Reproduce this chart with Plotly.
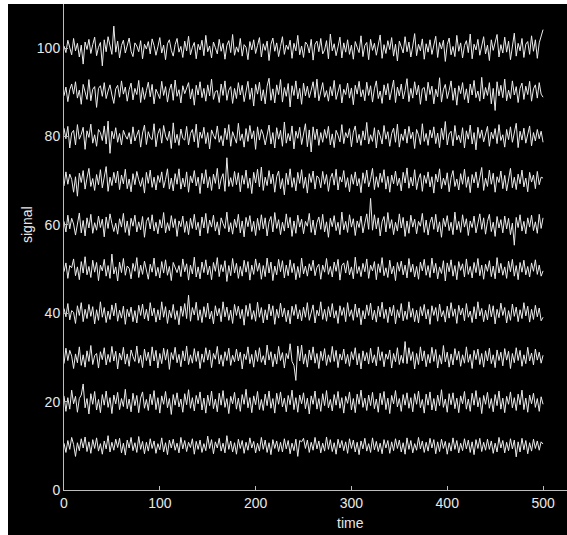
import plotly.graph_objects as go

# time samples (every 2 units from 0 to 500)
time = list(range(0, 501, 2))

# channel baseline levels
levels = [10, 20, 30, 40, 50, 60, 70, 80, 90, 100]

# deviations of each channel around its baseline
dev100 = [0.5,-1.0,1.8,0.4,-1.5,2.2,-0.6,1.1,-2.0,0.7,
 -3.6,1.4,-0.3,2.0,-1.2,0.8,2.5,-1.7,0.2,1.3,
 -4.0,1.9,-0.8,2.6,0.3,-1.4,5.0,-0.9,1.6,-2.2,
 0.6,1.8,-1.1,0.4,2.3,-0.7,-1.9,1.2,0.5,-0.8,
 1.7,-2.4,0.9,-0.2,1.5,-1.3,2.1,0.6,-1.6,0.3,
 2.4,-1.1,0.7,-2.6,1.0,1.9,-0.5,-1.8,0.8,2.2,
 -0.9,0.4,-2.1,1.6,-0.6,2.7,-1.5,0.2,1.3,-2.4,
 0.9,-0.4,1.8,-1.7,2.9,-0.8,0.5,-2.2,1.4,0.1,
 -1.3,2.0,-0.7,1.1,-2.5,0.6,1.7,-1.0,3.1,-1.6,
 0.3,-0.9,2.2,-1.8,0.8,0.2,-2.6,1.5,-0.4,1.9,
 -1.2,0.6,2.4,-2.0,1.0,-0.5,1.6,-2.8,0.9,2.3,
 -0.7,1.2,-1.9,0.4,2.6,-1.4,0.7,-0.3,1.8,-2.3,
 1.1,-0.6,2.9,-1.5,0.5,-2.1,1.4,0.8,-1.1,2.0,
 -2.7,0.9,1.6,-0.8,2.2,-1.3,-0.4,1.7,-2.4,3.2,
 -0.6,1.0,-1.7,0.3,2.5,-2.2,1.2,-0.9,1.9,-1.4,
 0.7,-2.5,1.5,0.2,-1.0,2.8,-1.9,0.6,1.3,-2.6,
 2.0,-0.5,1.1,-1.6,0.4,3.0,-2.3,0.8,-1.2,1.7,
 -0.3,2.4,-1.8,0.9,-2.9,1.6,0.3,-1.1,2.6,-0.8,
 1.4,-2.0,0.5,3.3,-1.7,0.9,-0.6,2.1,-2.5,1.0,
 -0.9,1.9,-1.4,0.6,2.7,-2.1,1.3,-0.2,1.8,-3.0,
 0.8,2.3,-1.5,0.4,-1.9,2.9,-0.7,1.2,-2.2,0.6,
 1.7,-1.0,3.2,-2.4,0.9,-0.4,2.0,-1.6,0.5,2.6,
 -1.3,0.7,-2.8,1.9,-0.5,1.4,3.1,-2.0,0.8,-1.1,
 2.5,-0.9,1.6,-2.6,0.3,3.4,-1.8,1.1,-0.6,2.2,
 -2.1,0.9,1.5,-1.4,2.8,-0.7,1.9,-2.3,1.2,2.7,
 4.2]
dev90 = [-0.8,1.2,-2.1,0.6,1.9,-0.4,2.4,-1.3,0.5,-2.7,
 1.8,-0.2,-1.6,2.9,-1.9,0.7,1.3,-3.4,0.9,1.5,
 -0.9,2.2,-1.4,0.3,1.7,-0.6,-2.5,0.8,1.6,-1.1,
 2.6,-0.4,1.2,-2.0,0.6,2.1,-1.7,0.9,-0.5,2.7,
 -2.3,1.1,-1.6,0.4,2.3,-1.0,1.8,-2.6,0.7,-0.3,
 -1.4,2.5,-0.7,1.3,-2.2,0.5,1.9,-1.8,2.8,-0.9,
 0.6,-2.4,1.5,-0.3,0.9,2.2,-1.5,0.8,-2.9,1.6,
 -0.6,2.4,-1.2,0.9,-2.0,1.7,-0.8,3.0,-1.6,0.2,
 0.4,-2.3,1.9,-0.7,2.6,-1.8,0.5,1.3,-2.5,0.9,
 -1.4,2.2,-0.6,1.6,-2.1,0.7,2.5,-1.6,1.0,-3.1,
 1.8,-0.4,2.3,-1.9,0.6,-2.6,1.4,3.2,-1.8,0.8,
 -2.4,1.7,-0.5,2.9,-2.2,1.1,-0.9,2.0,-3.3,1.5,
 -0.7,2.6,-1.5,0.9,-2.7,2.1,-0.8,1.4,-1.2,0.5,
 2.4,-1.2,3.0,-1.9,0.6,2.2,-1.1,0.4,-2.0,1.3,
 -0.8,2.7,-1.6,0.3,1.8,-2.4,0.7,-0.5,2.1,-1.3,
 1.0,-2.8,1.6,-0.4,2.5,-1.0,0.6,-1.9,2.3,-0.7,
 1.5,-2.2,0.8,2.6,-1.4,0.3,-2.5,1.7,-0.6,2.0,
 -1.7,0.5,2.8,-2.3,1.2,-0.8,1.9,-1.5,0.4,3.1,
 -2.1,0.9,-1.3,2.4,-0.6,1.6,-2.7,0.8,1.1,-1.9,
 2.3,-0.5,1.4,-2.6,0.7,-1.0,3.3,-2.2,0.6,1.8,
 -1.4,0.4,2.6,-1.8,1.0,-2.9,1.5,-0.3,2.2,-1.6,
 0.8,-2.4,1.9,-0.6,2.7,-1.2,0.3,-2.0,3.4,-1.5,
 1.1,-0.7,2.2,-2.6,0.9,-4.1,2.4,-0.8,1.6,-1.2,
 3.0,-1.9,0.5,-1.4,2.6,-0.6,1.3,-2.3,0.9,2.1,
 -1.6,1.4,-0.5,2.5,-2.0,0.8,1.7,-1.3,2.2,-0.4,
 -1.1]
dev80 = [1.9,-0.5,2.3,-2.6,0.8,1.4,-1.9,2.7,-0.6,0.5,
 2.1,-2.9,1.3,-0.2,2.8,-1.5,0.4,-2.2,1.6,0.9,
 -0.9,2.4,-1.7,3.5,-3.8,1.2,-0.5,2.0,-1.3,0.7,
 -1.9,1.4,0.2,-0.6,0.9,-1.7,2.2,-1.0,0.3,1.5,
 -2.4,0.8,2.6,-1.8,1.1,-0.3,-0.7,2.9,-2.3,0.6,
 1.8,-1.5,2.5,0.1,-0.9,1.2,-2.7,3.1,-1.4,0.5,
 -2.0,1.7,-0.4,-0.8,2.3,-1.9,0.7,1.6,-1.2,2.8,
 -2.5,1.0,-0.4,2.1,-1.6,0.9,-2.8,1.5,0.3,-0.6,
 2.4,-1.3,0.2,-2.1,1.9,-0.7,2.7,-2.2,1.1,-0.5,
 -1.5,3.0,-0.9,0.6,-2.4,1.8,-1.1,2.5,-0.5,1.3,
 -2.9,2.2,-0.8,1.6,0.4,-1.9,0.8,2.6,-1.7,0.9,
 -2.6,2.0,-0.6,1.4,-2.2,3.3,-1.5,0.7,-1.0,2.4,
 -2.8,1.2,-0.4,2.1,-1.8,0.8,2.9,-2.3,1.5,-3.5,
 2.2,-0.7,1.7,-2.0,0.9,-1.3,1.6,-0.4,2.3,-1.9,
 0.6,-2.5,1.4,0.3,-1.2,2.7,-1.6,0.9,-0.3,1.8,
 -2.3,1.0,2.4,-1.4,0.5,-2.0,1.3,-0.8,3.2,-1.7,
 0.4,-1.1,2.0,-2.6,1.5,0.2,-1.7,2.5,-0.6,1.1,
 -2.2,0.7,1.9,-1.3,2.8,-2.4,0.6,-0.9,1.7,-1.5,
 2.3,-0.5,1.0,-2.7,1.6,0.4,-1.8,2.9,-1.1,0.7,
 -2.0,1.5,-0.3,2.2,-1.6,0.8,-2.5,1.9,-0.7,3.4,
 -1.9,0.6,1.2,-2.1,2.5,-0.8,0.3,-1.4,2.0,-2.6,
 1.3,-0.6,2.6,-1.7,0.9,-3.0,2.1,-0.4,1.5,-1.2,
 0.8,2.3,-2.2,1.0,-0.5,1.8,-1.6,2.7,-0.9,0.4,
 -2.4,1.6,-0.7,2.2,-1.3,0.6,3.0,-2.5,1.2,-0.8,
 1.9,-1.5,0.7,2.4,-2.1,0.9,-1.0,1.6,-0.5,1.2,
 -1.3]
dev70 = [-1.2,2.0,-0.8,1.5,0.3,-2.6,0.9,-3.5,1.7,-0.4,
 2.3,-1.9,0.6,2.8,-1.3,0.5,-2.2,1.4,-0.9,2.5,
 -1.6,0.7,3.2,-2.4,0.8,-1.1,1.9,-0.5,2.2,-2.0,
 1.3,-0.7,2.6,-1.8,0.4,-2.5,1.6,-0.9,2.1,0.2,
 -1.3,0.7,-2.8,1.9,-0.6,2.4,-1.5,0.8,-2.1,1.2,
 -0.4,2.0,-1.6,0.3,2.7,-1.9,0.6,-2.3,1.6,-0.8,
 2.7,-1.9,0.6,-1.4,2.0,-2.6,1.1,-0.5,2.3,-1.2,
 0.8,-2.9,1.7,-0.7,2.5,-1.6,0.9,-2.2,1.5,-0.6,
 2.8,-1.9,0.4,1.6,-2.4,5.2,-1.3,0.7,-1.3,2.1,
 -0.9,1.8,-2.5,1.2,-0.8,2.4,-1.7,0.6,-2.9,1.9,
 -0.5,2.6,-1.4,3.1,-2.2,0.8,-1.1,2.3,-0.7,1.5,
 -2.6,0.9,2.2,-1.8,0.5,-3.2,1.7,-0.9,2.7,-1.5,
 0.7,-2.3,1.9,-0.6,2.5,-1.7,0.8,-2.8,1.6,-0.4,
 2.2,-1.9,1.1,0.6,-1.6,2.1,-0.8,1.4,-2.4,0.5,
 1.7,-1.0,2.6,-2.1,0.9,-0.3,2.3,-1.5,0.7,-2.5,
 1.4,-0.8,2.0,-1.2,0.5,-2.7,1.8,-0.6,2.4,-1.4,
 0.3,2.8,-2.0,0.9,-1.5,1.7,-0.4,2.5,-1.9,1.0,
 -2.6,1.3,-0.7,2.2,-1.1,0.6,-2.3,1.9,-0.5,2.9,
 -1.7,0.8,-1.2,2.5,-2.0,0.4,1.6,-2.4,1.2,-0.6,
 2.0,-1.4,0.9,-2.8,1.5,-0.3,2.7,-1.8,0.6,-1.0,
 1.8,-2.5,0.7,2.3,-1.3,0.4,-2.1,1.6,-0.8,2.6,
 -1.5,0.9,-2.7,1.4,-0.5,2.0,-1.6,0.7,3.0,-2.2,
 0.6,-1.3,2.4,-0.8,1.7,-2.6,0.9,-0.4,2.2,-1.8,
 1.2,-2.3,0.5,2.8,-1.6,0.8,-2.0,1.5,-0.7,2.4,
 -1.4,0.6,-2.5,1.9,-0.3,1.3,-1.8,2.1,-0.9,0.8,
 0.6]
dev60 = [0.8,-1.6,2.2,-0.9,1.5,0.2,-2.3,0.6,2.7,-1.8,
 1.0,-2.5,1.6,-0.7,2.4,-1.9,0.5,-1.2,2.0,-0.6,
 1.3,-2.7,1.8,-0.8,2.5,0.3,-1.5,0.4,-2.1,1.4,
 -0.5,2.6,-1.7,0.9,-2.4,1.5,-0.3,2.2,-1.6,0.7,
 -1.1,1.9,-2.8,0.8,1.7,-0.9,2.3,-1.4,0.6,-2.0,
 1.2,-0.7,2.8,-1.8,0.5,-1.3,2.1,-0.6,1.4,-2.6,
 0.9,-0.4,2.0,-1.7,0.8,-2.2,1.5,-0.8,2.4,-1.1,
 0.6,-2.5,1.8,-0.7,2.6,-1.9,1.1,-0.5,2.2,-1.4,
 0.7,-2.3,1.6,0.3,-0.8,2.9,-1.6,0.5,-2.1,1.3,
 -0.6,2.4,-1.8,0.9,-2.7,1.7,-0.4,2.1,-1.5,0.8,
 -2.4,1.5,-1.2,2.3,-0.9,1.6,-2.5,0.7,1.9,-1.6,
 2.8,-0.8,1.2,-2.2,0.6,-1.4,2.5,-0.7,1.7,-2.6,
 0.9,-1.9,2.2,-0.5,1.3,-2.0,0.8,-0.3,2.6,-1.7,
 1.1,-2.3,0.5,1.8,-1.0,2.4,-1.6,0.7,-2.8,1.5,
 -0.4,2.1,-1.3,0.6,-2.2,2.9,-1.1,0.8,-1.7,2.3,
 -0.5,1.4,-2.4,0.9,-0.6,2.0,-1.8,0.4,2.5,-1.0,
 6.0,-1.2,2.3,-0.9,1.6,-2.5,0.7,1.9,-1.6,2.8,
 -0.8,1.2,-2.2,0.6,-1.4,2.5,-0.7,1.7,-2.6,0.9,
 -1.9,2.2,-0.5,1.3,-2.0,0.8,-0.3,2.6,-1.7,1.1,
 -2.3,0.5,1.8,-1.0,2.4,-1.6,0.7,-2.8,1.5,-0.4,
 2.1,-1.3,0.6,-2.2,2.9,-1.1,0.8,-1.7,2.3,-0.5,
 1.4,-2.4,0.9,-0.6,2.0,-1.8,0.4,2.5,-1.0,1.6,
 -2.1,0.8,2.4,-1.5,0.6,-2.6,1.9,-0.7,1.2,-1.8,
 2.0,-0.9,1.5,-2.2,0.4,-4.6,1.7,-0.6,2.3,-1.4,
 0.8,-2.0,1.6,-0.5,2.2,-1.3,0.7,-1.9,2.4,-0.8,
 1.6]
dev50 = [-0.6,1.4,-2.1,0.8,0.3,2.3,-1.5,0.5,-2.4,1.7,
 -0.9,2.8,-1.3,0.6,-1.9,2.0,-0.7,1.5,-2.6,0.9,
 -0.4,2.2,-1.6,0.8,-2.1,3.4,-1.1,0.5,-2.7,1.6,
 -0.8,2.4,-1.4,0.7,0.2,-2.2,1.3,-0.5,2.6,-1.9,
 0.9,-1.2,1.8,-0.6,-2.3,1.1,-0.7,2.5,-1.6,0.4,
 -2.0,1.7,-0.9,2.1,-1.4,0.6,-2.6,1.5,0.3,-0.8,
 0.8,-1.7,2.3,-0.6,1.2,-2.5,0.9,-1.1,2.7,-1.8,
 0.5,-2.2,1.6,-0.8,2.1,-1.3,0.7,-2.4,1.5,-0.5,
 2.6,-1.7,1.0,-0.6,1.9,-2.8,0.8,-1.5,2.4,-0.9,
 1.3,-2.1,0.6,-1.6,2.0,-0.7,1.7,-2.5,0.9,-1.2,
 2.3,-0.5,1.4,-2.3,0.8,-1.7,2.5,-0.9,1.6,-2.6,
 0.7,-1.3,2.2,-0.6,1.9,-2.0,0.9,-1.5,2.1,-0.8,
 1.3,-2.4,0.6,-1.9,2.5,-1.1,0.7,-1.6,1.2,-0.4,
 2.0,-1.5,0.4,1.1,-2.3,0.9,-0.7,2.4,-1.2,0.6,
 -1.8,1.6,-0.5,2.2,-2.5,0.8,1.4,-0.9,1.9,-1.3,
 0.5,-2.2,2.7,-1.0,0.6,-1.7,1.3,-0.6,2.3,-2.1,
 0.9,-0.4,1.7,-2.4,1.2,-0.8,2.6,-1.5,0.3,-1.9,
 2.0,-1.1,0.7,-2.6,1.5,-0.5,1.8,-1.3,0.9,-2.0,
 2.4,-0.7,1.1,-1.8,0.6,-2.3,1.6,-0.4,2.2,-1.4,
 0.8,-1.9,2.5,-0.9,1.3,-2.2,0.5,-1.0,1.9,-2.7,
 1.4,-0.6,2.1,-1.6,0.8,-2.4,1.7,-0.3,1.2,-1.8,
 2.3,-1.2,0.6,-2.0,1.5,-0.8,2.4,-1.5,0.9,-2.3,
 1.1,-0.5,1.9,-1.7,0.7,-2.2,2.6,-0.9,1.3,-1.4,
 0.5,-2.1,1.8,-0.6,2.2,-1.6,0.8,-2.4,1.5,-0.7,
 2.0,-1.3,0.6,-1.8,1.4,-0.5,2.1,-1.2,0.9,-1.6,
 -0.4]
dev40 = [1.1,-0.8,2.2,-1.5,0.6,0.2,-2.3,1.7,-0.5,2.4,
 -1.9,0.9,-1.2,2.0,-0.7,1.5,-2.4,0.8,-1.6,2.6,
 -0.9,1.3,-2.1,0.5,-1.4,1.9,-0.6,2.3,-1.8,0.7,
 -1.1,1.6,-2.5,0.9,-0.8,1.4,-1.9,0.6,-2.2,1.8,
 -0.5,2.1,-1.3,0.9,-1.7,2.4,-0.6,1.2,-2.0,0.8,
 -1.5,2.6,-0.9,1.5,-2.3,0.7,-1.0,2.0,-1.4,0.6,
 -2.6,1.6,-0.7,2.2,-1.2,4.1,-1.8,1.3,-0.4,2.5,
 -1.6,0.8,-2.1,1.5,-0.9,2.3,-1.3,0.5,-2.4,1.7,
 -0.6,1.1,-1.9,2.6,-0.8,1.4,-1.6,0.7,-2.3,2.0,
 -0.5,1.6,-1.2,0.9,-2.7,1.8,-0.7,2.2,-1.4,0.6,
 -1.8,2.5,-0.9,1.3,-2.2,0.8,-1.5,2.1,-0.6,1.7,
 -2.5,0.9,-1.1,2.3,-0.8,1.2,-1.9,0.7,-2.4,1.6,
 -0.5,2.0,-1.3,0.8,-1.7,1.4,-0.9,2.4,-1.6,0.5,
 1.9,-2.2,0.7,-0.6,2.6,-1.4,0.9,-1.8,1.5,-0.8,
 2.2,-1.1,0.6,-2.3,1.7,-0.5,1.3,-1.9,2.4,-0.7,
 0.8,-1.6,2.1,-0.9,1.2,-2.6,0.6,-1.3,1.9,-0.5,
 2.3,-1.5,0.7,-2.0,1.6,-0.8,2.5,-1.2,0.9,-2.1,
 1.4,-0.6,1.8,-2.4,0.8,-1.0,2.2,-1.7,0.5,-1.4,
 2.6,-0.9,1.1,-1.9,0.7,-2.2,1.5,-0.6,2.0,-1.3,
 0.9,-2.5,1.7,-0.5,1.3,-1.8,2.1,-0.8,0.6,-2.0,
 1.6,-1.1,2.4,-0.7,1.0,-2.3,1.8,-0.4,1.2,-1.7,
 2.2,-0.9,0.5,-2.1,1.5,-1.3,2.6,-0.6,1.1,-1.9,
 0.7,-1.5,2.0,-0.8,1.7,-2.4,0.9,-1.0,2.3,-0.5,
 1.3,-2.2,0.6,-1.6,2.1,-0.7,1.4,-1.9,0.8,-1.2,
 2.4,-0.6,1.6,-2.0,0.9,-1.4,1.8,-0.8,1.2,-1.7,
 -0.9]
dev30 = [-1.4,2.1,-0.7,1.6,0.3,-2.5,0.8,-1.2,2.4,-1.8,
 0.6,-2.2,1.5,-0.9,2.7,-1.6,0.4,0.9,-2.4,1.3,
 -0.5,2.2,-1.7,0.7,-1.1,2.5,-0.8,1.4,-2.6,1.0,
 -0.6,2.3,-1.5,0.8,-2.0,1.7,0.2,-0.9,2.6,-1.3,
 0.5,-2.3,1.9,-0.7,1.2,-1.9,2.4,-0.8,1.6,-2.4,
 0.9,-1.4,2.1,-0.6,1.8,-2.7,1.1,-0.5,2.3,-1.2,
 0.7,-2.1,1.5,-0.8,2.6,-1.6,0.6,-1.3,2.0,-0.9,
 1.4,-2.5,0.8,-1.1,2.2,-0.6,1.7,-2.3,0.9,-0.4,
 2.5,-1.5,0.6,-2.0,1.3,-0.7,2.1,-1.8,0.5,-1.0,
 1.9,-0.8,1.2,-2.6,0.8,-0.5,2.4,-1.4,0.7,-2.2,
 1.6,-0.9,2.2,-1.1,0.4,-1.7,2.8,-0.6,1.3,-2.1,
 0.8,-1.5,2.5,-0.7,1.1,-2.4,0.9,-0.3,3.1,-0.9,
 -1.8,-5.2,2.6,-0.8,2.8,-1.5,0.8,-2.2,1.7,-0.6,
 2.4,-1.3,0.9,-2.5,1.4,-0.7,2.0,-1.8,0.6,-1.1,
 2.5,-0.9,1.6,-2.3,0.8,-0.6,1.9,-1.4,0.7,-2.0,
 1.3,-0.5,2.2,-1.7,0.9,-2.6,1.5,-0.8,1.1,-1.5,
 2.1,-1.2,0.6,-1.9,2.4,-0.7,1.3,-2.1,0.8,-0.4,
 1.7,-2.4,0.9,-1.0,2.2,-1.6,0.5,-1.3,3.6,-1.4,
 2.2,-0.7,1.3,-2.6,0.9,-1.6,2.4,-0.8,1.5,-2.1,
 0.7,-1.3,2.3,-0.9,1.8,-2.4,0.6,-1.5,2.7,-1.0,
 1.2,-2.2,0.8,-1.7,2.0,-0.6,1.4,-2.0,0.6,-1.3,
 2.4,-1.1,0.7,-2.5,1.6,-0.5,1.9,-1.6,0.9,-2.2,
 1.5,-0.8,2.1,-1.4,0.6,-2.3,1.7,-0.7,1.2,-1.9,
 2.0,-0.6,1.4,-2.5,0.9,-1.2,2.2,-0.7,1.6,-2.0,
 0.6,-1.4,2.3,-0.8,1.0,-1.7,1.9,-0.6,1.2,-1.3,
 0.5]
dev20 = [1.3,-2.2,0.9,-1.7,2.6,-0.5,1.2,-2.4,0.7,1.5,
 4.0,-1.4,0.7,-2.8,1.8,-0.6,2.3,-1.9,0.5,-2.5,
 1.6,-0.8,2.4,-1.3,0.9,-2.7,1.5,-0.5,2.1,-1.8,
 0.7,-1.1,2.8,-1.6,0.6,-2.3,1.9,-0.9,1.4,-2.5,
 0.8,2.2,-1.5,0.5,-2.0,1.7,-0.7,2.5,-1.8,0.9,
 -2.6,1.3,-0.6,2.3,-1.4,0.7,-2.9,1.6,-0.8,2.0,
 -1.2,0.6,-2.4,1.8,-0.7,2.7,-1.5,0.9,-2.1,1.4,
 -0.5,2.2,-1.9,0.8,-2.6,1.5,-0.9,2.4,-1.6,0.6,
 -2.3,1.9,-0.8,2.5,-1.3,0.7,-2.7,1.2,-0.5,2.1,
 -1.7,0.8,-2.2,1.6,-0.6,2.8,-1.4,0.9,-2.5,1.3,
 -0.7,2.3,-1.8,0.5,-2.0,1.7,-0.9,2.4,-1.5,0.7,
 -2.6,1.9,-0.6,2.2,-1.2,0.8,-2.3,1.4,-0.7,2.6,
 -1.8,0.9,-2.4,1.5,-0.5,2.0,-1.6,0.8,-2.8,1.3,
 -0.6,2.4,-1.7,0.7,-2.2,1.8,-0.9,2.5,-1.4,0.5,
 -2.1,1.6,-0.8,2.3,-1.5,0.9,-2.6,1.2,-0.4,2.2,
 -1.9,0.7,-2.5,1.7,-0.6,2.6,-1.3,0.8,-2.0,1.5,
 -0.9,2.1,-1.6,0.6,-2.4,1.9,-0.7,2.3,-1.8,0.8,
 -2.7,1.4,-0.5,2.5,-1.2,0.7,-2.2,1.6,-0.8,2.0,
 -1.5,0.9,-2.3,1.8,-0.6,2.4,-1.4,0.5,-2.6,1.7,
 -0.8,2.2,-1.9,0.7,-2.1,1.5,-0.9,2.7,-1.3,0.6,
 -2.4,1.8,-0.7,2.0,-1.6,0.8,-2.5,1.3,-0.5,2.3,
 -1.7,0.6,-2.2,1.9,-0.8,2.5,-1.2,0.9,-2.7,1.4,
 -0.6,2.1,-1.5,0.7,-2.3,1.6,-0.9,2.4,-1.7,0.8,
 -2.5,1.2,-0.6,2.2,-1.4,0.9,-2.0,1.7,-0.7,2.6,
 -1.8,0.8,-2.4,1.5,-0.5,1.9,-1.3,0.7,-2.2,1.1,
 -0.6]
dev10 = [0.6,-1.5,1.2,-0.8,1.9,0.3,-2.4,0.7,-1.1,1.6,
 -0.5,2.0,-1.3,0.9,-1.7,1.4,-0.6,1.8,-1.2,0.5,
 -1.9,1.1,-0.7,2.3,-1.4,0.8,-1.0,1.5,-0.4,1.7,
 -1.6,0.6,-2.1,1.3,-0.5,1.9,-1.1,0.7,-1.5,2.1,
 -0.8,1.0,-1.8,0.8,-1.2,1.6,-0.6,1.1,-1.7,0.5,
 -0.9,1.8,-1.4,0.7,-2.0,1.3,-0.5,1.5,-1.0,0.6,
 -1.6,1.9,-0.7,1.2,-1.3,0.8,-0.4,1.6,-1.9,1.0,
 -0.8,1.3,-1.5,0.5,-1.1,2.2,-0.6,1.4,-1.8,0.9,
 -0.5,1.7,-1.2,0.6,-1.6,2.3,-0.8,1.1,-1.4,0.7,
 -1.9,1.5,-0.6,1.2,-1.7,0.8,-1.0,1.8,-0.5,1.0,
 -1.6,0.6,-1.2,1.9,-0.8,1.3,-1.5,0.7,-2.0,1.4,
 -0.6,1.1,-1.3,0.8,-1.4,1.6,-0.7,1.2,-1.8,0.6,
 -1.1,1.5,-2.4,1.2,0.9,1.7,-0.6,1.3,-1.5,0.8,
 -1.0,1.9,-0.7,1.1,-1.6,0.6,-1.2,2.0,-0.8,1.4,
 -1.3,0.7,-1.9,1.5,-0.5,1.2,-1.1,0.9,-1.7,1.6,
 -0.6,1.3,-1.4,0.8,-2.0,1.1,-0.7,1.7,-1.2,0.5,
 -1.5,1.8,-0.9,1.0,-1.3,0.6,-1.8,1.4,-0.5,1.2,
 -1.7,0.9,-1.1,1.6,-0.6,1.3,-1.4,0.7,-1.9,1.8,
 -0.8,1.2,-1.6,0.5,-1.0,1.9,-0.7,1.1,-1.5,0.8,
 -1.2,1.7,-0.5,1.4,-1.8,0.9,-1.3,1.5,-0.6,1.0,
 -1.9,0.7,-1.2,1.8,-0.8,1.2,-1.6,0.6,-1.1,1.6,
 -0.7,1.3,-1.5,0.9,-2.0,1.4,-0.6,1.7,-1.3,0.8,
 -1.0,1.5,-0.8,1.1,-1.7,0.6,-1.4,1.9,-0.5,1.2,
 -1.6,0.8,-1.1,1.6,-0.7,1.3,-2.5,0.9,-1.4,1.7,
 -0.9,1.2,-1.8,0.7,-1.2,1.5,-0.6,1.1,-1.0,0.9,
 0.4]

devs = [dev10, dev20, dev30, dev40, dev50, dev60, dev70, dev80, dev90, dev100]

x_ticks = [0, 100, 200, 300, 400, 500]
y_ticks = [0, 20, 40, 60, 80, 100]

W, H = 567, 535
ML, MR, MT, MB = 64, 0, 4, 45
PW, PH = W - ML - MR, H - MT - MB

fig = go.Figure()
for lvl, d in zip(levels, devs):
    fig.add_trace(go.Scatter(
        x=time[:len(d)], y=[lvl + v for v in d], mode="lines",
        line=dict(color="#ececec", width=1), hoverinfo="skip", showlegend=False))

font = dict(family="Liberation Sans, Arial, sans-serif", size=14, color="#e8e8e8")
axis_common = dict(showgrid=False, zeroline=False, showline=True, linecolor="#bdbdbd",
                   linewidth=1, ticks="inside", ticklen=4, tickcolor="#bdbdbd",
                   tickfont=font, mirror=False)

fig.update_layout(
    width=W, height=H,
    margin=dict(l=ML, r=MR, t=MT, b=MB, pad=0),
    paper_bgcolor="black", plot_bgcolor="black",
    xaxis=dict(range=[0, 525], tickvals=x_ticks, **axis_common),
    yaxis=dict(range=[0, 110], tickvals=y_ticks, **axis_common),
    annotations=[
        dict(text="signal", x=(27 - ML) / PW, y=(H - MB - 225) / PH, xref="paper", yref="paper",
             showarrow=False, textangle=-90, font=font, xanchor="center", yanchor="middle"),
        dict(text="time", x=(350 - ML) / PW, y=(H - MB - 523) / PH, xref="paper", yref="paper",
             showarrow=False, font=font, xanchor="center", yanchor="middle"),
    ],
    shapes=[
        dict(type="rect", xref="paper", yref="paper", x0=(0 - ML) / PW, x1=(8 - ML) / PW,
             y0=(H - MB - H) / PH, y1=(H - MB) / PH, fillcolor="white", line=dict(width=0), layer="above"),
        dict(type="rect", xref="paper", yref="paper", x0=(0 - ML) / PW, x1=1,
             y0=1, y1=(H - MB) / PH, fillcolor="white", line=dict(width=0), layer="above"),
    ],
)

fig.write_html("out.html", config={"displayModeBar": False},
               post_script="document.body.style.margin='0px';")
